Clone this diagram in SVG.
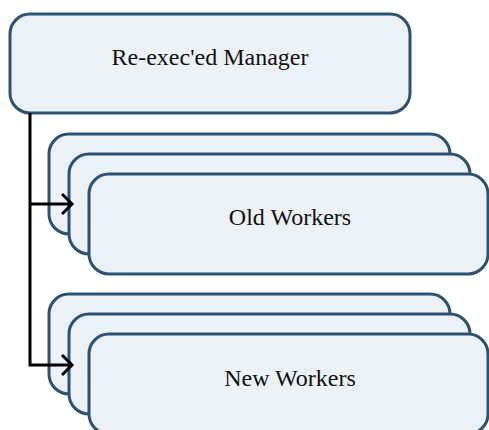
<svg xmlns="http://www.w3.org/2000/svg" width="489" height="430" viewBox="0 0 489 430">
<style>
.box{fill:#ecf1f6;stroke:#2d5270;stroke-width:3}
.lbl{font-family:"Liberation Serif",serif;font-size:24px;fill:#111;text-anchor:middle}
.wire{fill:none;stroke:#000;stroke-width:3}
</style>
<defs>
<marker id="arr" markerWidth="14" markerHeight="24" refX="11" refY="12" orient="auto" markerUnits="userSpaceOnUse">
<path d="M1,2 L11,12 L1,22" fill="none" stroke="#000" stroke-width="3"/>
</marker>
</defs>
<rect width="489" height="430" fill="#fff"/>
<g id="manager">
<rect class="box" x="10" y="14" width="400" height="99" rx="20"/>
<text class="lbl" x="210" y="65">Re-exec'ed Manager</text>
</g>
<g id="old-workers">
<rect class="box" x="49" y="134" width="401" height="100" rx="20"/>
<rect class="box" x="69" y="154" width="401" height="100" rx="20"/>
<rect class="box" x="89" y="174" width="399" height="100" rx="20"/>
<text class="lbl" x="290" y="225">Old Workers</text>
</g>
<g id="new-workers">
<rect class="box" x="49" y="294" width="401" height="100" rx="20"/>
<rect class="box" x="69" y="314" width="401" height="100" rx="20"/>
<rect class="box" x="89" y="334" width="399" height="100" rx="20"/>
<text class="lbl" x="290" y="386">New Workers</text>
</g>
<g id="connectors">
<path class="wire" d="M30,113 L30,365 L72,365" marker-end="url(#arr)"/>
<path class="wire" d="M30,204 L72,204" marker-end="url(#arr)"/>
</g>
</svg>
